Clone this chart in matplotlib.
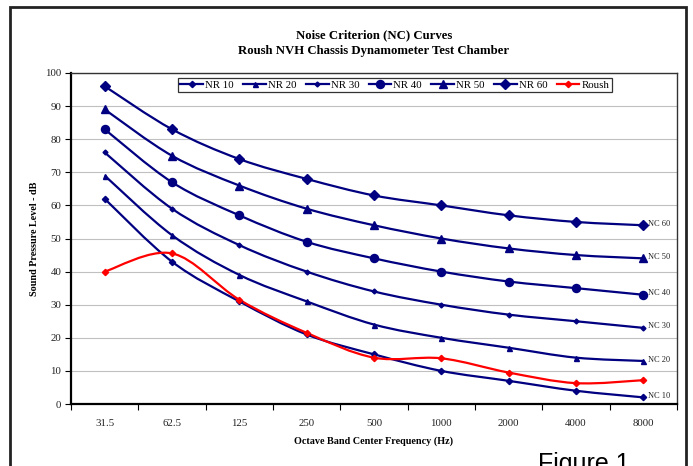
import matplotlib
matplotlib.use("Agg")
import matplotlib.pyplot as plt
import numpy as np
from matplotlib.path import Path
from matplotlib.patches import PathPatch, Rectangle
from matplotlib.lines import Line2D

frequencies = ["31.5", "62.5", "125", "250", "500", "1000", "2000", "4000", "8000"]
nc10 = [62, 43, 31, 21, 15, 10, 7, 4, 2]
nc20 = [69, 51, 39, 31, 24, 20, 17, 14, 13]
nc30 = [76, 59, 48, 40, 34, 30, 27, 25, 23]
nc40 = [83, 67, 57, 49, 44, 40, 37, 35, 33]
nc50 = [89, 75, 66, 59, 54, 50, 47, 45, 44]
nc60 = [96, 83, 74, 68, 63, 60, 57, 55, 54]
roush = [40, 45.5, 31.5, 21.5, 14, 13.8, 9.5, 6.3, 7.2]

series_names = ["NR 10", "NR 20", "NR 30", "NR 40", "NR 50", "NR 60", "Roush"]
end_labels = ["NC 10", "NC 20", "NC 30", "NC 40", "NC 50", "NC 60", None]
series_values = [nc10, nc20, nc30, nc40, nc50, nc60, roush]

NAVY = "#000080"
RED = "#FF0000"
styles = [
    dict(color=NAVY, marker="D", ms=3.2),
    dict(color=NAVY, marker="^", ms=3.6),
    dict(color=NAVY, marker="D", ms=2.5),
    dict(color=NAVY, marker="o", ms=5.8),
    dict(color=NAVY, marker="^", ms=6.0),
    dict(color=NAVY, marker="D", ms=4.8),
    dict(color=RED, marker="D", ms=3.2),
]

SERIF = "Liberation Serif"
plt.rcParams["font.family"] = [SERIF, "DejaVu Serif"]

W, H = 693, 466
fig = plt.figure(figsize=(W / 100, H / 100), dpi=100)
ax = fig.add_axes([71 / W, 1 - 404 / H, (677 - 71) / W, (404 - 73) / H])

def smooth_path(xs, ys):
    pts = np.column_stack([xs, ys]).astype(float)
    n = len(pts)
    verts = [pts[0]]
    codes = [Path.MOVETO]
    for i in range(n - 1):
        p0 = pts[max(i - 1, 0)]
        p1 = pts[i]
        p2 = pts[i + 1]
        p3 = pts[min(i + 2, n - 1)]
        c1 = p1 + (p2 - p0) / 6.0
        c2 = p2 - (p3 - p1) / 6.0
        verts += [c1, c2, p2]
        codes += [Path.CURVE4] * 3
    return Path(verts, codes)

x = np.arange(len(frequencies))
handles = []
for name, vals, st, lab in zip(series_names, series_values, styles, end_labels):
    patch = PathPatch(smooth_path(x, vals), facecolor="none", edgecolor=st["color"],
                      lw=1.6, transform=ax.transData, zorder=3)
    ax.add_patch(patch)
    ax.plot(x, vals, linestyle="none", marker=st["marker"], ms=st["ms"],
            color=st["color"], mec=st["color"], zorder=4)
    handles.append(Line2D([], [], color=st["color"], lw=1.6, marker=st["marker"],
                          ms=st["ms"], mec=st["color"]))
    if lab:
        ax.annotate(lab, (x[-1], vals[-1]), xytext=(3.5, 1), textcoords="offset points",
                    fontsize=6, va="center", ha="left", color="#222222",
                    annotation_clip=False)

ax.set_xlim(-0.5, len(frequencies) - 0.5)
ax.set_ylim(0, 100)
ax.set_yticks(np.arange(0, 101, 10))
ax.yaxis.grid(True, color="#c0c0c0", lw=0.8)
ax.set_axisbelow(True)
ax.set_xticks(np.arange(-0.5, len(frequencies), 1.0))
ax.set_xticklabels([])
ax.set_xticks(x, minor=True)
ax.set_xticklabels(frequencies, minor=True)
ax.tick_params(axis="x", which="major", direction="out", length=4, width=0.8)
ax.tick_params(axis="x", which="minor", length=0, pad=11, labelsize=7.8, labelcolor="#222222")
ax.tick_params(axis="y", direction="out", length=4, width=0.8, labelsize=7.8,
               labelcolor="#222222", pad=3)

for s in ["left", "bottom"]:
    ax.spines[s].set_linewidth(1.6)
    ax.spines[s].set_color("black")
for s in ["top", "right"]:
    ax.spines[s].set_linewidth(1.0)
    ax.spines[s].set_color("#333333")

ax.set_xlabel("Octave Band Center Frequency (Hz)", fontsize=7.3, fontweight="bold", labelpad=6)
ax.set_ylabel("Sound Pressure Level - dB", fontsize=7.3, fontweight="bold", labelpad=4)

leg = ax.legend(handles, series_names, ncol=7, loc="upper left",
                bbox_to_anchor=((178 - 71) / (677 - 71), (404 - 78) / (404 - 73)),
                fontsize=7.8, frameon=True, fancybox=False, edgecolor="black",
                handlelength=2.1, handletextpad=0.2, columnspacing=0.85,
                borderpad=0.22, borderaxespad=0)
leg.get_frame().set_linewidth(0.9)

cx = 0.5 * (71 + 677) / W
fig.text(cx, 1 - 35 / H, "Noise Criterion (NC) Curves",
         ha="center", va="center", fontsize=9.2, fontweight="bold")
fig.text(cx, 1 - 51 / H, "Roush NVH Chassis Dynamometer Test Chamber",
         ha="center", va="center", fontsize=9.2, fontweight="bold")

fig.text(538 / W, 1 - 452 / H, "Figure 1", ha="left", va="top", fontsize=18,
         family=["Liberation Sans", "DejaVu Sans"])

fig.add_artist(Rectangle((10 / W, -0.05), (686 - 10) / W, 1 - 7 / H + 0.05,
                         transform=fig.transFigure, fill=False, edgecolor="#222222",
                         lw=2.0))

fig.savefig("out.png", dpi=100)
